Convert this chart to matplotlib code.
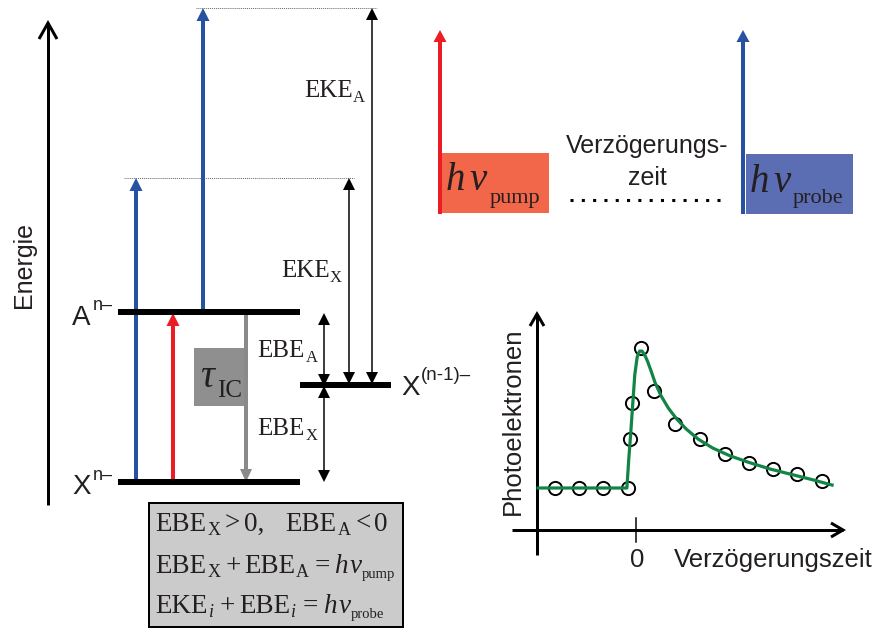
import matplotlib
matplotlib.use("Agg")
import matplotlib.pyplot as plt
from matplotlib.patches import Polygon, Rectangle

# Pump-probe transient: measured photoelectron counts vs. delay time
delay_points = [-3.38, -2.38, -1.38, -0.33, -0.25, -0.17, 0.21, 0.75, 1.63, 2.67,
                3.71, 4.71, 5.71, 6.71, 7.75]
signal_points = [1.00, 1.00, 1.00, 1.00, 2.17, 3.02, 4.33, 3.31, 2.52, 2.17,
                 1.81, 1.60, 1.45, 1.33, 1.17]
# Fitted curve through the transient
fit_delay = [-4.08, -0.38, -0.30, -0.22, -0.13, -0.05, 0.05, 0.15, 0.25, 0.36, 0.48,
             0.62, 0.80, 1.05, 1.35, 1.70, 2.10, 2.60, 3.20, 3.90, 4.70, 5.60, 6.50,
             7.40, 8.17]
fit_signal = [1.00, 1.00, 1.70, 2.30, 3.05, 3.70, 4.12, 4.26, 4.26, 4.17, 4.02,
              3.80, 3.50, 3.19, 2.90, 2.64, 2.40, 2.16, 1.95, 1.77, 1.61, 1.45, 1.32,
              1.19, 1.07]

BLUE = '#2751a3'
RED = '#ec1c24'
GRAY = '#8a8a8a'
SANS = 'Liberation Sans'
SERIF = 'Liberation Serif'
INK = '#231f20'

W, H = 877, 628
fig = plt.figure(figsize=(W / 100, H / 100), dpi=100)
ax = fig.add_axes([0, 0, 1, 1])
ax.set_xlim(0, W)
ax.set_ylim(H, 0)
ax.axis('off')
renderer = fig.canvas.get_renderer()

PT = 0.72  # points per pixel


def v_arrow(x, y_tail, y_tip, color, lw_px, head_w=12, head_l=12, both=False, z=3):
    d = 1 if y_tip > y_tail else -1
    base = y_tip - d * head_l
    start = y_tail + d * head_l if both else y_tail
    ax.plot([x, x], [start, base], color=color, lw=lw_px * PT,
            solid_capstyle='butt', zorder=z)
    ax.add_patch(Polygon([(x - head_w / 2, base), (x + head_w / 2, base), (x, y_tip)],
                         closed=True, facecolor=color, edgecolor='none', zorder=z))
    if both:
        ax.add_patch(Polygon([(x - head_w / 2, start), (x + head_w / 2, start), (x, y_tail)],
                             closed=True, facecolor=color, edgecolor='none', zorder=z))


def open_arrow_v(x, y_bottom, y_tip, lw_px, hw, hl):
    ax.plot([x, x], [y_bottom, y_tip], color='black', lw=lw_px * PT,
            solid_capstyle='butt', zorder=3)
    ax.plot([x - hw, x, x + hw], [y_tip + hl, y_tip, y_tip + hl], color='black',
            lw=lw_px * PT, solid_joinstyle='miter', solid_capstyle='butt', zorder=3)


def open_arrow_h(y, x_left, x_tip, lw_px, hw, hl):
    ax.plot([x_left, x_tip], [y, y], color='black', lw=lw_px * PT,
            solid_capstyle='butt', zorder=3)
    ax.plot([x_tip - hl, x_tip, x_tip - hl], [y - hw, y, y + hw], color='black',
            lw=lw_px * PT, solid_joinstyle='miter', solid_capstyle='butt', zorder=3)


def serif(x, y, s, size, italic=False, z=4):
    return ax.text(x, y, s, fontsize=size, family=SERIF,
                   style='italic' if italic else 'normal',
                   va='baseline', ha='left', color=INK, zorder=z)


STYLE = {  # kind: (size, italic, baseline shift)
    'm': (19.5, False, 0), 'i': (19.5, True, 0),
    's': (13, False, 4), 'si': (13, True, 4), 'ss': (10.5, False, 5),
}


def formula(x0, y, x_end, pieces):
    # pieces: (text, kind, gap before in px, stretchable gap?)
    texts = []
    for s, kind, gap, flex in pieces:
        size, it, dy = STYLE[kind]
        texts.append((serif(0, y + dy, s, size, italic=it), gap, flex))
    widths = [t.get_window_extent(renderer=renderer).width for t, _, _ in texts]
    total = sum(widths) + sum(g for _, g, _ in texts)
    n_flex = sum(1 for _, _, f in texts if f)
    extra = (x_end - x0 - total) / max(n_flex, 1)
    x = x0
    for (t, gap, flex), w in zip(texts, widths):
        x += gap + (extra if flex else 0)
        t.set_x(x)
        x += w


# ---- energy level diagram ----
open_arrow_v(48, 505, 23, 3, 9, 16)
ax.text(24, 265, 'Energie', rotation=90, ha='center', va='center',
        fontsize=18, family=SANS, color=INK)

# reference lines for the final energies
ax.plot([196, 377], [8, 8], color='#666666', lw=0.7, ls=(0, (1, 1)), zorder=1)
ax.plot([124, 354], [178, 178], color='#666666', lw=0.7, ls=(0, (1, 1)), zorder=1)

# photon arrows
v_arrow(136, 482, 178, BLUE, 4, 13, 13)
v_arrow(203, 312, 8, BLUE, 4, 13, 13)
v_arrow(173, 482, 313, RED, 4, 13, 13)

# internal conversion
ax.add_patch(Rectangle((194, 348), 50, 58, facecolor='#8f8f8f', edgecolor='none', zorder=2))
serif(200, 387, 'τ', 28, italic=True)
serif(217, 397, 'IC', 18)
v_arrow(246, 312, 482, GRAY, 4, 12, 13)

# electron kinetic / binding energy arrows
v_arrow(372, 384, 8, 'black', 1.5, 12, 12, both=True)
v_arrow(349, 384, 178, 'black', 1.5, 12, 12, both=True)
v_arrow(324, 386, 313, 'black', 1.5, 12, 12, both=True)
v_arrow(324, 386, 482, 'black', 1.5, 12, 12, both=True)

# levels
for (x0, x1, y) in [(118, 300, 312), (118, 300, 482), (300, 391, 385)]:
    ax.plot([x0, x1], [y, y], color='black', lw=6 * PT, solid_capstyle='butt', zorder=5)

ax.text(72, 325, 'A', fontsize=20, family=SANS, va='baseline', color=INK)
ax.text(93, 310, 'n–', fontsize=13, family=SANS, va='baseline', color=INK)
ax.text(72, 494, 'X', fontsize=20, family=SANS, va='baseline', color=INK)
ax.text(93, 480, 'n–', fontsize=13, family=SANS, va='baseline', color=INK)
ax.text(401, 395, 'X', fontsize=20, family=SANS, va='baseline', color=INK)
ax.text(421, 380, '(n-1)–', fontsize=13.5, family=SANS, va='baseline', color=INK)

for (x, y, main, sub) in [(304, 97, 'EKE', 'A'), (281, 277, 'EKE', 'X'),
                          (257, 357, 'EBE', 'A'), (257, 435, 'EBE', 'X')]:
    serif(x, y, main, 18)
    serif(x + 49, y + 5, sub, 12)

# relations box
ax.add_patch(Rectangle((149, 503), 254, 124, facecolor='#cbcbcb', edgecolor='black',
                       lw=2 * PT, zorder=2))
formula(155, 531, 388, [('EBE', 'm', 0, False), ('X', 's', 1, False),
                        ('>', 'm', 5, True), ('0,', 'm', 4, True),
                        ('EBE', 'm', 22, True), ('A', 's', 1, False),
                        ('<', 'm', 5, True), ('0', 'm', 4, True)])
formula(155, 573, 395, [('EBE', 'm', 0, False), ('X', 's', 1, False),
                        ('+', 'm', 5, True), ('EBE', 'm', 3, True),
                        ('A', 's', 1, False), ('=', 'm', 5, True),
                        ('h', 'i', 4, True), ('ν', 'i', 2, False),
                        ('pump', 'ss', 0, False)])
formula(155, 613, 384, [('EKE', 'm', 0, False), ('i', 'si', 1, False),
                        ('+', 'm', 5, True), ('EBE', 'm', 3, True),
                        ('i', 'si', 1, False), ('=', 'm', 5, True),
                        ('h', 'i', 4, True), ('ν', 'i', 2, False),
                        ('probe', 'ss', 0, False)])

# ---- pump / probe pulses ----
ax.add_patch(Rectangle((442, 153), 107, 60, facecolor='#f26649', edgecolor='none', zorder=2))
v_arrow(440, 214, 30, RED, 4, 13, 12)
serif(446, 190, 'h', 28, italic=True)
serif(469, 190, 'ν', 28, italic=True)
serif(490, 203, 'pump', 16)

ax.add_patch(Rectangle((746, 154), 107, 60, facecolor='#5b6db3', edgecolor='none', zorder=2))
v_arrow(743, 214, 30, BLUE, 4, 13, 12)
serif(750, 192, 'h', 28, italic=True)
serif(773, 192, 'ν', 28, italic=True)
serif(793, 203, 'probe', 16)

ax.text(647, 153, 'Verzögerungs-', fontsize=18, family=SANS, ha='center', va='baseline',
        color=INK)
ax.text(647, 185, 'zeit', fontsize=18, family=SANS, ha='center', va='baseline',
        color=INK)
ax.plot([570, 726], [200, 200], color='black', lw=2.2, ls=(0, (1, 2.7)),
        dash_capstyle='butt')

# ---- transient axes ----
open_arrow_v(537, 555, 314, 3, 7, 12)
open_arrow_h(530, 512, 843, 3, 7, 12)
ax.plot([636, 636], [518, 542], color='black', lw=1.5 * PT)
ax.text(637, 567, '0', fontsize=18.5, family=SANS, ha='center', va='baseline', color=INK)
ax.text(674, 567, 'Verzögerungszeit', fontsize=18.5, family=SANS, ha='left',
        va='baseline', color=INK)
ax.text(513, 421, 'Photoelektronen', rotation=90, fontsize=18.5, family=SANS,
        ha='center', va='center', color=INK)

px0, px1, py0, py1 = 512, 860, 300, 570
ins = fig.add_axes([px0 / W, 1 - py1 / H, (px1 - px0) / W, (py1 - py0) / H])
ins.set_xlim((px0 - 636) / 24, (px1 - 636) / 24)
ins.set_ylim((530 - py1) / 42, (530 - py0) / 42)
ins.axis('off')
ins.patch.set_alpha(0)
ins.plot(delay_points, signal_points, 'o', mfc='none', mec='black', ms=9.5, mew=1.4,
         zorder=2)
ins.plot(fit_delay, fit_signal, '-', color='#118446', lw=2.3, zorder=3,
         solid_joinstyle='round')

fig.savefig('out.png', dpi=100)
